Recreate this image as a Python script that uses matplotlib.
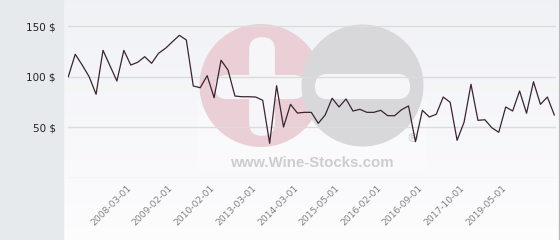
import numpy as np
import matplotlib.pyplot as plt
import matplotlib.transforms as mtransforms
from matplotlib.patches import Circle, FancyBboxPatch, Rectangle

# price per bottle, one value per listing
prices = [100.0, 122.1, 111.5, 100.0, 82.6, 126.0, 110.8, 95.7, 126.0, 111.5,
          114.2, 119.7, 113.2, 123.1, 128.0, 134.5, 140.8, 136.2, 90.8, 89.1,
          101.0, 79.2, 116.2, 106.6, 80.9, 80.2, 80.2, 79.9, 76.7, 34.2,
          91.1, 50.3, 72.7, 64.1, 64.8, 64.8, 54.0, 62.2, 78.7, 70.1,
          78.0, 66.1, 67.8, 64.8, 64.8, 66.8, 61.5, 61.5, 67.4, 71.1,
          35.8, 66.8, 60.2, 62.9, 79.9, 74.7, 37.2, 55.0, 92.5, 56.9,
          57.5, 49.6, 45.1, 70.1, 66.1, 85.9, 63.9, 95.0, 72.7, 79.9, 62.2]

date_labels = ["2008-03-01", "2009-02-01", "2010-02-01", "2013-03-01", "2014-03-01",
               "2015-05-01", "2016-02-01", "2016-09-01", "2017-10-01", "2019-05-01"]
label_first, label_step = 9, 6

y_ticks = [50, 100, 150]

W, H = 560, 240
fig = plt.figure(figsize=(W / 100, H / 100), dpi=100)
fig.patch.set_facecolor("white")

# background layer in pixel coordinates
bg = fig.add_axes([0, 0, 1, 1])
bg.set_xlim(0, W)
bg.set_ylim(H, 0)
bg.axis("off")
grad = np.linspace(0, 1, 100).reshape(-1, 1)
top_c = np.array([0.945, 0.949, 0.965])
bot_c = np.array([0.99, 0.99, 0.995])
img = top_c + (bot_c - top_c) * grad[..., None]
bg.imshow(img, extent=[63, 558, H, 0], aspect="auto", zorder=0)
bg.add_patch(Rectangle((0, 0), 63, H, color="#e7eaed", zorder=1))
bg.plot([558.5, 558.5], [0, H], color="#b8b8b8", lw=1, zorder=1)

# watermark
bg.add_patch(Rectangle((197, 100), 230, 72, color="white", alpha=0.3, lw=0, zorder=2))
bg.add_patch(Circle((261, 85.5), 61.5, color="#eacfd6", lw=0, zorder=3))
bg.add_patch(FancyBboxPatch((262, 38 + 12), 0.1, 97 - 24, boxstyle="round,pad=12.8",
                            color="#f6f6f9", lw=0, zorder=4))
bg.add_patch(FancyBboxPatch((215 + 12, 75 + 12), 90 - 24, 0.1, boxstyle="round,pad=12",
                            color="#f6f6f9", lw=0, zorder=4))
bg.add_patch(Circle((362.5, 85.5), 61, color="#d8d8da", lw=0, zorder=5))
bg.add_patch(FancyBboxPatch((315 + 12.5, 74 + 12.5), 95 - 25, 0.1, boxstyle="round,pad=12.5",
                            color="#f6f6f9", lw=0, zorder=6))
bg.text(312, 163, "www.Wine-Stocks.com", ha="center", va="center", fontsize=10.8,
        fontweight="bold", family="Liberation Sans", color="#cdcdcd", zorder=6)
bg.text(413, 139, "\u00ae", ha="center", va="center", fontsize=9,
        color="#c8c8c8", zorder=6)

# main chart
x0, x1 = 68.3, 556
px_per_step = 6.943
ax = fig.add_axes([x0 / W, 62 / H, (x1 - x0) / W, 178 / H])
ax.patch.set_alpha(0)
x = np.arange(len(prices))
ax.set_xlim(0, (x1 - x0) / px_per_step)
ax.set_ylim(0, 178 / 1.0133)
for v in [0] + y_ticks:
    ax.axhline(v, color="#dcdcdc", lw=1, zorder=1)
ax.plot(x, prices, color="#3a2431", lw=0.9, zorder=3)

for s in ax.spines.values():
    s.set_visible(False)
ax.set_yticks(y_ticks)
ax.set_yticklabels([f"{v} $" for v in y_ticks], fontsize=7.5, color="#222222")
tick_pos = [label_first + label_step * i for i in range(len(date_labels))]
ax.set_xticks(tick_pos)
ax.set_xticklabels(date_labels, rotation=45, ha="right", va="top",
                   rotation_mode="anchor", fontsize=6.6, color="#808080")
ax.tick_params(axis="both", length=0)
ax.tick_params(axis="y", pad=9)
ax.tick_params(axis="x", pad=4)
shift = mtransforms.ScaledTranslation(-4 / 100, 0, fig.dpi_scale_trans)
for lbl in ax.get_xticklabels():
    lbl.set_transform(lbl.get_transform() + shift)

fig.savefig("out.png", dpi=100)
